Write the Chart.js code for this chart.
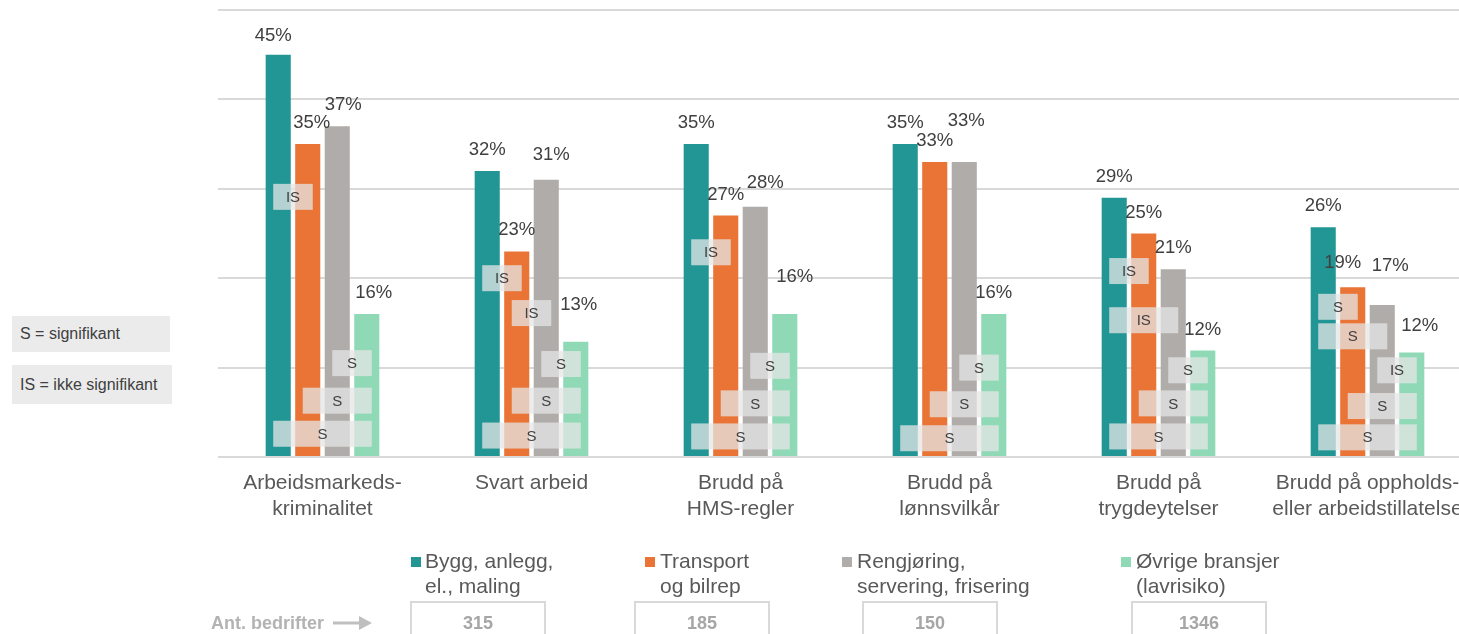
<!DOCTYPE html>
<html lang="no">
<head>
<meta charset="UTF-8">
<title>Arbeidsmarkedskriminalitet per bransje</title>
<script src="https://cdn.jsdelivr.net/npm/chart.js"></script>
<style>
    body { margin: 0; width: 1459px; height: 634px; overflow: hidden; background: #fff;
           font-family: "Liberation Sans", Arial, sans-serif; position: relative; }
    #wrap { position: absolute; left: 0; top: 0; width: 1480px; height: 634px; }
    .key { position: absolute; left: 12px; background: #ebebeb; color: #404040; font-size: 16px;
           padding-left: 8px; box-sizing: border-box; display: flex; align-items: center; }
    .leg { position: absolute; top: 548px; font-size: 21px; line-height: 25px; color: #595959; white-space: nowrap; }
    .sq { position: absolute; top: 557px; width: 10px; height: 10px; }
    .cnt { position: absolute; top: 601px; width: 136px; height: 50px; border: 2px solid #d9d9d9; box-sizing: border-box;
           text-align: center; font-weight: bold; font-size: 18px; line-height: 20px; color: #a6a6a6; padding-top: 10px; }
    .ant { position: absolute; left: 211px; top: 613px; font-weight: bold; font-size: 18px; line-height: 20px; color: #b3b3b3; }
</style>
</head>
<body>
<div id="wrap"><canvas id="graf" width="1480" height="634"></canvas></div>

<div class="key" style="top:316px;width:158px;height:36px;">S = signifikant</div>
<div class="key" style="top:365px;width:160px;height:39px;">IS = ikke signifikant</div>

<div class="ant">Ant. bedrifter</div>
<svg style="position:absolute;left:333px;top:615px" width="40" height="16">
    <line x1="0" y1="8" x2="28" y2="8" stroke="#bfbfbf" stroke-width="3"/>
    <polygon points="26,1 39,8 26,15" fill="#bfbfbf"/>
</svg>
<div id="legende"></div>

<script>
// kategorier (x-akse)
const kategorier = [
    ['Arbeidsmarkeds-', 'kriminalitet'],
    'Svart arbeid',
    ['Brudd på', 'HMS-regler'],
    ['Brudd på', 'lønnsvilkår'],
    ['Brudd på', 'trygdeytelser'],
    ['Brudd på oppholds-', 'eller arbeidstillatelse']
];

// andel bedrifter, prosent
const bygg      = [45, 32, 35, 35, 29, 25.7];
const transport = [35, 23, 27, 33, 25, 19];
const rengjoring = [37, 31, 28, 33, 21, 17];
const ovrige    = [16, 12.9, 16, 16, 11.9, 11.7];

const serieNavn = [
    ['Bygg, anlegg,', 'el., maling'],
    ['Transport', 'og bilrep'],
    ['Rengjøring,', 'servering, frisering'],
    ['Øvrige bransjer', '(lavrisiko)']
];
const antBedrifter = [315, 185, 150, 1346];
const farger = ['#229694', '#e97435', '#b0acaa', '#8fd9b6'];

// signifikanstester: [kategori, serie fra, serie til, resultat, plassering (%)]
const tester = [
    [0, 0, 1, 'IS', 29.1], [0, 2, 3, 'S', 10.5], [0, 1, 3, 'S', 6.3], [0, 0, 3, 'S', 2.6],
    [1, 0, 1, 'IS', 20.0], [1, 1, 2, 'IS', 16.1], [1, 2, 3, 'S', 10.4], [1, 1, 3, 'S', 6.3], [1, 0, 3, 'S', 2.4],
    [2, 0, 1, 'IS', 22.9], [2, 2, 3, 'S', 10.2], [2, 1, 3, 'S', 6.0], [2, 0, 3, 'S', 2.3],
    [3, 2, 3, 'S', 10.0], [3, 1, 3, 'S', 5.9], [3, 0, 3, 'S', 2.1],
    [4, 0, 1, 'IS', 20.8], [4, 0, 2, 'IS', 15.3], [4, 2, 3, 'S', 9.7], [4, 1, 3, 'S', 6.0], [4, 0, 3, 'S', 2.3],
    [5, 0, 1, 'S', 16.8], [5, 0, 2, 'S', 13.5], [5, 2, 3, 'IS', 9.7], [5, 1, 3, 'S', 5.7], [5, 0, 3, 'S', 2.2]
];

// litt flytting av etiketter som ellers ville overlappe  "serie,kategori": [dx, dy]
const flytt = {
    '0,0': [-5, 2], '1,0': [4, 0], '2,0': [6, 0], '3,0': [7, 0],
    '2,1': [5, -4], '3,1': [3, -16],
    '2,2': [10, -3], '3,2': [10, -16],
    '2,3': [2, -20],
    '1,5': [-10, -3], '2,5': [8, -18], '3,5': [8, -5]
};

// legende i html
const legX = [[411, 425, 410], [645, 660, 634], [842, 857, 862], [1121, 1136, 1131]];
let html = '';
serieNavn.forEach((navn, i) => {
    html += `<div class="sq" style="left:${legX[i][0]}px;background:${farger[i]}"></div>`;
    html += `<div class="leg" style="left:${legX[i][1]}px">${navn.join('<br>')}</div>`;
    html += `<div class="cnt" style="left:${legX[i][2]}px">${antBedrifter[i]}</div>`;
});
document.getElementById('legende').innerHTML = html;

const signifikans = {
    id: 'signifikans',
    afterDatasetsDraw(chart) {
        const ctx = chart.ctx;
        const y = chart.scales.y;
        ctx.save();
        tester.forEach(t => {
            const a = chart.getDatasetMeta(t[1]).data[t[0]];
            const b = chart.getDatasetMeta(t[2]).data[t[0]];
            const x1 = a.x - 5, x2 = b.x + 5;
            const yc = y.getPixelForValue(t[4]);
            ctx.fillStyle = 'rgba(230,230,230,0.75)';
            ctx.fillRect(x1, yc - 13, x2 - x1, 26);
            ctx.fillStyle = '#404040';
            ctx.font = '15px "Liberation Sans", Arial, sans-serif';
            ctx.textAlign = 'center';
            ctx.textBaseline = 'middle';
            ctx.fillText(t[3], (x1 + x2) / 2, yc + 1);
        });
        ctx.restore();
    }
};

const etiketter = {
    id: 'etiketter',
    afterDatasetsDraw(chart) {
        const ctx = chart.ctx;
        ctx.save();
        ctx.fillStyle = '#404040';
        ctx.font = '18.5px "Liberation Sans", Arial, sans-serif';
        ctx.textAlign = 'center';
        ctx.textBaseline = 'middle';
        chart.data.datasets.forEach((ds, i) => {
            chart.getDatasetMeta(i).data.forEach((bar, j) => {
                const f = flytt[i + ',' + j] || [0, 0];
                ctx.fillText(Math.round(ds.data[j]) + '%', bar.x + f[0], bar.y - 21 + f[1]);
            });
        });
        ctx.restore();
    }
};

new Chart(document.getElementById('graf'), {
    type: 'bar',
    data: {
        labels: kategorier,
        datasets: serieNavn.map((navn, i) => ({
            label: navn.join(' '),
            data: [bygg, transport, rengjoring, ovrige][i],
            backgroundColor: farger[i],
            borderWidth: 0,
            categoryPercentage: 0.565,
            barPercentage: 0.85
        }))
    },
    options: {
        responsive: false,
        devicePixelRatio: 1,
        animation: false,
        layout: { padding: { left: 218, right: 8, top: 10, bottom: 0 } },
        plugins: { legend: { display: false }, tooltip: { enabled: false } },
        scales: {
            y: {
                min: 0, max: 50,
                ticks: { display: false, stepSize: 10 },
                grid: { color: '#d9d9d9', lineWidth: 2, drawTicks: false },
                border: { display: false },
                afterFit: s => { s.width = 0; }
            },
            x: {
                grid: { display: false, drawTicks: false },
                border: { display: false },
                ticks: {
                    color: '#595959',
                    padding: 14,
                    maxRotation: 0,
                    autoSkip: false,
                    font: { family: '"Liberation Sans", Arial, sans-serif', size: 21, lineHeight: 1.2 }
                },
                afterFit: s => { s.height = 177; }
            }
        }
    },
    plugins: [signifikans, etiketter]
});
</script>
</body>
</html>
